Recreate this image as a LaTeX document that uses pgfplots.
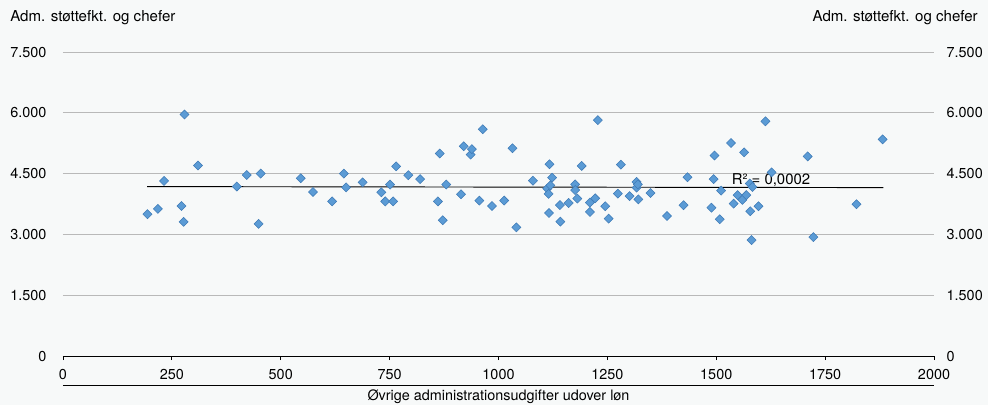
\documentclass[border=0pt]{standalone}
\usepackage{fontspec}
\setmainfont{TeX Gyre Heros}
\usepackage{pgfplots}
\pgfplotsset{compat=1.18}

\definecolor{bg}{RGB}{247,249,249}
\definecolor{gridc}{RGB}{185,185,185}
\definecolor{mfill}{RGB}{91,155,213}
\definecolor{mdraw}{RGB}{62,122,182}

% 1 px of the reference = 0.75pt
\pgfplotstableread{
x y
194 3500
218 3630
232 4320
272 3700
277 3310
279 5960
310 4700
399 4180
422 4465
449 3260
454 4500
546 4385
574 4045
618 3815
645 4500
650 4160
688 4285
731 4040
740 3815
751 4230
758 3815
765 4680
793 4460
820 4365
861 3815
865 4995
872 3350
880 4230
914 3990
920 5175
936 4970
939 5105
956 3835
964 5595
985 3700
1013 3835
1032 5125
1041 3175
1079 4325
1112 4130
1115 4000
1116 3530
1117 4730
1119 4210
1123 4400
1141 3725
1142 3315
1161 3775
1176 4235
1176 4095
1181 3885
1191 4690
1210 3785
1210 3555
1222 3890
1228 5820
1245 3695
1253 3390
1274 4005
1281 4720
1301 3945
1317 4295
1317 4155
1320 4235
1321 3865
1349 4020
1387 3455
1425 3720
1434 4410
1489 3660
1494 4365
1496 4945
1508 3375
1511 4080
1534 5255
1540 3760
1549 3970
1560 3850
1564 5025
1569 3970
1577 4255
1578 3570
1581 2860
1583 4170
1597 3695
1613 5790
1627 4530
1710 4925
1723 2935
1822 3745
1882 5345
}\scatterdata

\begin{document}
\begin{tikzpicture}
\fill[bg] (-47.25pt,-36.75pt) rectangle (693.75pt,267pt);
\begin{axis}[
  scale only axis,
  width=653.25pt, height=228pt,
  xmin=0, xmax=2000, ymin=0, ymax=7500,
  xtick={0,250,...,2000}, ytick={0,1500,...,7500},
  axis x line*=bottom, axis y line*=left,
  y axis line style={draw=none},
  x axis line style={black, line width=0.75pt, -},
  ytick style={draw=none},
  xtick style={black, line width=0.6pt},
  tick align=outside, major tick length=3pt,
  ymajorgrids, grid style={gridc, line width=0.75pt},
  /pgf/number format/assume math mode=true,
  x tick label style={/pgf/number format/1000 sep={}, yshift=-3.5pt},
  y tick label style={/pgf/number format/1000 sep={.}, xshift=-6pt},
  tick label style={font=\fontsize{10.8}{12}\selectfont},
  clip=false,
  xlabel={Øvrige administrationsudgifter udover løn},
  x label style={at={(axis description cs:0.5,0)}, anchor=center, yshift=-30.75pt, font=\fontsize{10.8}{12}\selectfont},
]
\addplot[only marks, mark=square*, mark size=2.4pt,
  mark options={rotate=45, fill=mfill, draw=mdraw, line width=0.4pt}]
  table[x=x,y=y] {\scatterdata};
% linear trend line
\addplot[black, line width=0.7pt, mark=none] coordinates {(193,4180) (1884,4155)};
\node[anchor=west, inner sep=0pt, font=\fontsize{11.2}{12}\selectfont]
  at (axis cs:1535,4330) {R² = 0,0002};
% rule under the x tick labels (21.75pt below the axis)
\draw[black, line width=0.75pt] (axis cs:0,-715.5) -- (axis cs:2000,-715.5);
\node[anchor=west, inner sep=0pt, font=\fontsize{11.3}{12}\selectfont]
  at ([xshift=-39.75pt, yshift=25.5pt]rel axis cs:0,1) {Adm. støttefkt. og chefer};
\node[anchor=east, inner sep=0pt, font=\fontsize{11.3}{12}\selectfont]
  at ([xshift=33pt, yshift=25.5pt]rel axis cs:1,1) {Adm. støttefkt. og chefer};
\end{axis}
\begin{axis}[
  scale only axis,
  width=653.25pt, height=228pt,
  xmin=0, xmax=2000, ymin=0, ymax=7500,
  ytick={0,1500,...,7500},
  axis y line*=right, hide x axis,
  y axis line style={draw=none}, ytick style={draw=none},
  /pgf/number format/assume math mode=true,
  y tick label style={/pgf/number format/1000 sep={.}, xshift=6pt, font=\fontsize{10.8}{12}\selectfont},
]
\end{axis}
\pgfresetboundingbox
\path[use as bounding box] (-47.25pt,-36.75pt) rectangle (693.75pt,267pt);
\end{tikzpicture}
\end{document}
